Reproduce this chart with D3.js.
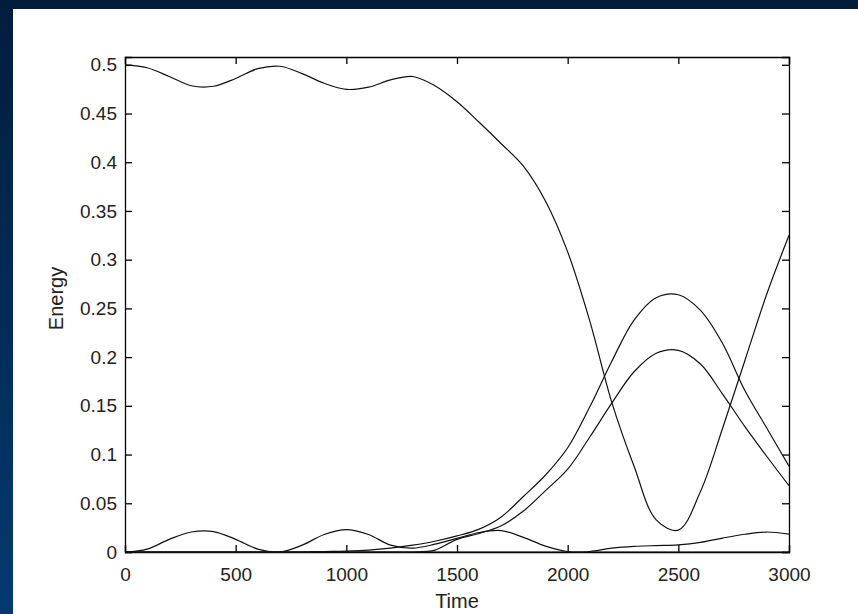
<!DOCTYPE html>
<html>
<head>
<meta charset="utf-8">
<script src="https://cdn.jsdelivr.net/npm/d3@7"></script>
<style>
  html, body { margin: 0; padding: 0; background: #022a52; }
  svg { display: block; }
</style>
</head>
<body>
<svg id="chart"></svg>
<script>
// time samples shared by every series
const timeSteps = [0, 100, 200, 300, 400, 500, 600, 700, 800, 900, 1000,
  1100, 1200, 1300, 1400, 1500, 1600, 1700, 1800, 1900, 2000,
  2100, 2200, 2300, 2400, 2500, 2600, 2700, 2800, 2900, 3000];

// energy curves
const energyMain = [0.500, 0.497, 0.488, 0.4785, 0.478, 0.486, 0.496, 0.4985, 0.491, 0.481, 0.4748,
  0.477, 0.4845, 0.488, 0.4785, 0.462, 0.441, 0.419, 0.396, 0.360, 0.308,
  0.237, 0.153, 0.088, 0.033, 0.0225, 0.062, 0.127, 0.196, 0.265, 0.325];
const energyUpperHump = [0, 0, 0, 0, 0, 0, 0, 0, 0, 0.0005, 0.001,
  0.002, 0.004, 0.007, 0.011, 0.0165, 0.0235, 0.036, 0.057, 0.079, 0.107,
  0.149, 0.196, 0.238, 0.261, 0.264, 0.248, 0.214, 0.166, 0.127, 0.088];
const energyLowerHump = [0, 0, 0, 0, 0, 0, 0, 0, 0, 0, 0,
  0, 0, 0, 0.002, 0.013, 0.019, 0.027, 0.042, 0.063, 0.085,
  0.118, 0.153, 0.185, 0.204, 0.207, 0.193, 0.162, 0.129, 0.098, 0.068];
const energySmall = [0, 0.003, 0.013, 0.0205, 0.021, 0.013, 0.003, 0, 0.007, 0.018, 0.023,
  0.018, 0.007, 0.004, 0.008, 0.014, 0.020, 0.022, 0.015, 0.006, 0.0005,
  0.0005, 0.004, 0.0058, 0.0066, 0.0073, 0.0098, 0.0143, 0.0182, 0.0205, 0.0183];
const energyZero = timeSteps.map(() => 0);

const xTicks = [0, 500, 1000, 1500, 2000, 2500, 3000];
const yTicks = [0, 0.05, 0.1, 0.15, 0.2, 0.25, 0.3, 0.35, 0.4, 0.45, 0.5];
const xLabel = "Time";
const yLabel = "Energy";

const width = 858, height = 614;
const svg = d3.select("#chart").attr("width", width).attr("height", height);

const defs = svg.append("defs");
const grad = defs.append("linearGradient").attr("id", "bg")
    .attr("x1", 0).attr("y1", 0).attr("x2", 0).attr("y2", 1);
grad.append("stop").attr("offset", "0%").attr("stop-color", "#011d3c");
grad.append("stop").attr("offset", "100%").attr("stop-color", "#033a6f");

svg.append("rect").attr("width", width).attr("height", height).attr("fill", "url(#bg)");
svg.append("rect").attr("x", 13).attr("y", 9)
    .attr("width", width - 13).attr("height", height - 9).attr("fill", "#fff");

const margin = { top: 57, right: 69, bottom: 62, left: 125 };
const innerWidth = width - margin.left - margin.right;
const innerHeight = height - margin.top - margin.bottom;

const g = svg.append("g").attr("transform", `translate(${margin.left},${margin.top})`);

const x = d3.scaleLinear().domain([0, 3000]).range([0, innerWidth]);
const y = d3.scaleLinear().domain([0, 0.508]).range([innerHeight, 0]);

defs.append("clipPath").attr("id", "plot-clip")
  .append("rect").attr("width", innerWidth).attr("height", innerHeight + 1);

const fontFamily = "'Liberation Sans', Arial, sans-serif";

// axes with inward ticks on all four sides
const axisB = g.append("g").attr("transform", `translate(0,${innerHeight})`)
    .call(d3.axisBottom(x).tickValues(xTicks).tickSize(-7).tickPadding(16).tickFormat(d => d));
const axisT = g.append("g")
    .call(d3.axisTop(x).tickValues(xTicks).tickSize(-7).tickFormat(""));
const axisL = g.append("g")
    .call(d3.axisLeft(y).tickValues(yTicks).tickSize(-7).tickPadding(8).tickFormat(d => d));
const axisR = g.append("g").attr("transform", `translate(${innerWidth},0)`)
    .call(d3.axisRight(y).tickValues(yTicks).tickSize(-7).tickFormat(""));

[axisB, axisT, axisL, axisR].forEach(a => {
  a.select(".domain").attr("stroke", "#000").attr("stroke-width", 1.3);
  a.selectAll(".tick line").attr("stroke", "#000").attr("stroke-width", 1.3);
  a.selectAll("text").attr("fill", "#222").style("font-family", fontFamily).style("font-size", "19px");
});

const line = d3.line()
    .x((d, i) => x(timeSteps[i]))
    .y(d => y(d))
    .curve(d3.curveCatmullRom.alpha(0.5));

const series = [energyZero, energySmall, energyLowerHump, energyUpperHump, energyMain];
g.append("g").attr("clip-path", "url(#plot-clip)")
  .selectAll("path")
  .data(series)
  .join("path")
    .attr("fill", "none")
    .attr("stroke", "#111")
    .attr("stroke-width", 1.2)
    .attr("d", line);

g.append("text")
    .attr("x", innerWidth / 2)
    .attr("y", innerHeight + 56)
    .attr("text-anchor", "middle")
    .attr("fill", "#222")
    .style("font-family", fontFamily)
    .style("font-size", "20px")
    .text(xLabel);

g.append("text")
    .attr("transform", `translate(${-62},${innerHeight / 2 - 6}) rotate(-90)`)
    .attr("text-anchor", "middle")
    .attr("fill", "#222")
    .style("font-family", fontFamily)
    .style("font-size", "20px")
    .text(yLabel);
</script>
</body>
</html>
